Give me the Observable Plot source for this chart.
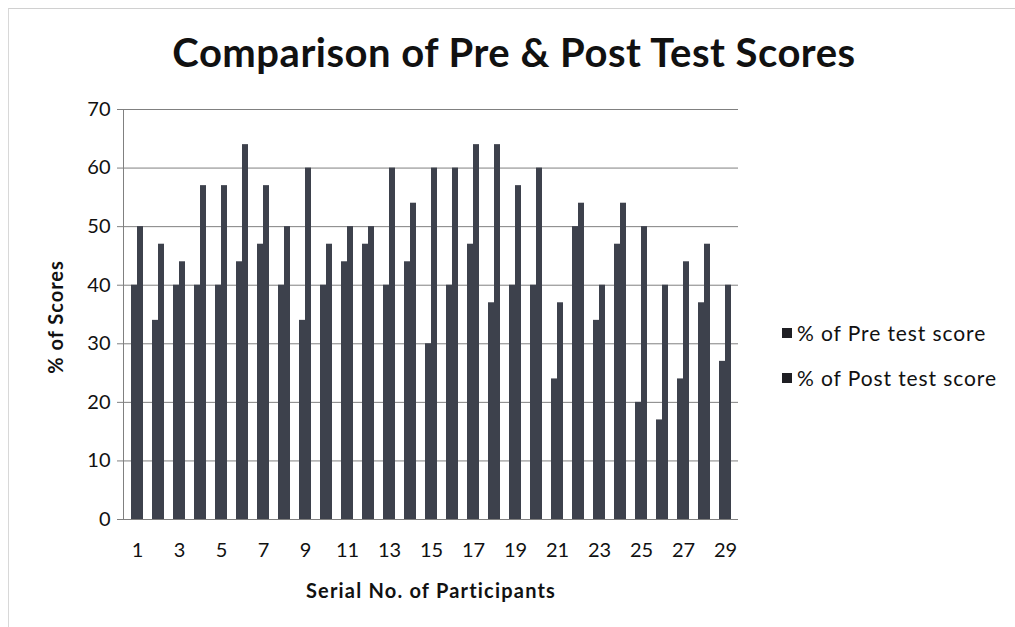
<!DOCTYPE html>
<html><head><meta charset="utf-8">
<script src="https://cdn.jsdelivr.net/npm/d3@7"></script>
<script src="https://cdn.jsdelivr.net/npm/@observablehq/plot@0.6"></script>
<style>
body{margin:0;background:#fff;}
#wrap{position:relative;width:1015px;height:627px;overflow:hidden;font-family:Lato,"Open Sans",sans-serif;color:#111;}
#chart{position:absolute;left:0;top:0;}
#border{position:absolute;left:8px;top:8px;width:1100px;height:700px;border-top:1px solid #d0d0d0;border-left:1px solid #d8d8d8;}
.title{position:absolute;left:0;width:1028px;top:28px;text-align:center;font-weight:bold;font-size:40px;letter-spacing:0.5px;white-space:nowrap;}
.ylab{position:absolute;left:55px;top:317px;transform:translate(-50%,-50%) rotate(-90deg);font-weight:bold;font-size:20px;letter-spacing:1px;white-space:nowrap;}
.xlab{position:absolute;left:431px;top:590px;transform:translate(-50%,-50%);font-weight:bold;font-size:20px;letter-spacing:1.2px;white-space:nowrap;}
.legend{position:absolute;left:782px;font-size:21px;letter-spacing:0.9px;white-space:nowrap;display:flex;align-items:center;}
.legend span.sw{display:inline-block;width:10px;height:10px;margin-right:5px;}
</style>
</head><body>
<div id="wrap">
<div id="border"></div>
<div id="chart"></div>
<div class="title">Comparison of Pre &amp; Post Test Scores</div>
<div class="ylab">% of Scores</div>
<div class="xlab">Serial No. of Participants</div>
<div class="legend" style="top:320px"><span class="sw" id="sw1"></span>% of Pre test score</div>
<div class="legend" style="top:365px"><span class="sw" id="sw2"></span>% of Post test score</div>
</div>
<script>
const participants = [1,2,3,4,5,6,7,8,9,10,11,12,13,14,15,16,17,18,19,20,21,22,23,24,25,26,27,28,29];
const preScores  = [40,34,40,40,40,44,47,40,34,40,44,47,40,44,30,40,47,37,40,40,24,50,34,47,20,17,24,37,27];
const postScores = [50,47,44,57,57,64,57,50,60,47,50,50,60,54,60,60,64,64,57,60,37,54,40,54,50,40,44,47,40];
const yTicks = [0,10,20,30,40,50,60,70];
const seriesNames = ["% of Pre test score","% of Post test score"];
const barColor = "#3d414c";

document.getElementById("sw1").style.background = "#1f1f24";
document.getElementById("sw2").style.background = "#1f1f24";

const pre = participants.map((id,i)=>({id, value: preScores[i], series: seriesNames[0]}));
const post = participants.map((id,i)=>({id, value: postScores[i], series: seriesNames[1]}));

const chart = Plot.plot({
  width: 1015, height: 627,
  marginLeft: 123, marginRight: 277, marginTop: 109, marginBottom: 108,
  style: {fontFamily: "Lato, 'Open Sans', sans-serif", fontSize: "20px", color: "#111", background: "transparent"},
  x: {type: "band", domain: participants, paddingInner: 0.717, paddingOuter: 0.36},
  y: {domain: [0, 70]},
  marks: [
    Plot.gridY(yTicks, {stroke: "#808080", strokeOpacity: 1}),
    Plot.barY(pre, {x: "id", y: "value", fill: barColor, dx: -3}),
    Plot.barY(post, {x: "id", y: "value", fill: barColor, dx: 3}),
    Plot.axisY(yTicks, {tickSize: 6, tickPadding: 7, label: null, stroke: "#808080", fill: "#111"}),
    Plot.axisX({tickSize: 0, tickPadding: 23, tickFormat: d => d % 2 ? String(d) : "", label: null, fill: "#111"}),
    Plot.ruleY([0], {stroke: "#808080"}),
    Plot.frame({anchor: "left", stroke: "#808080"})
  ]
});
document.getElementById("chart").appendChild(chart);
</script>
</body></html>
